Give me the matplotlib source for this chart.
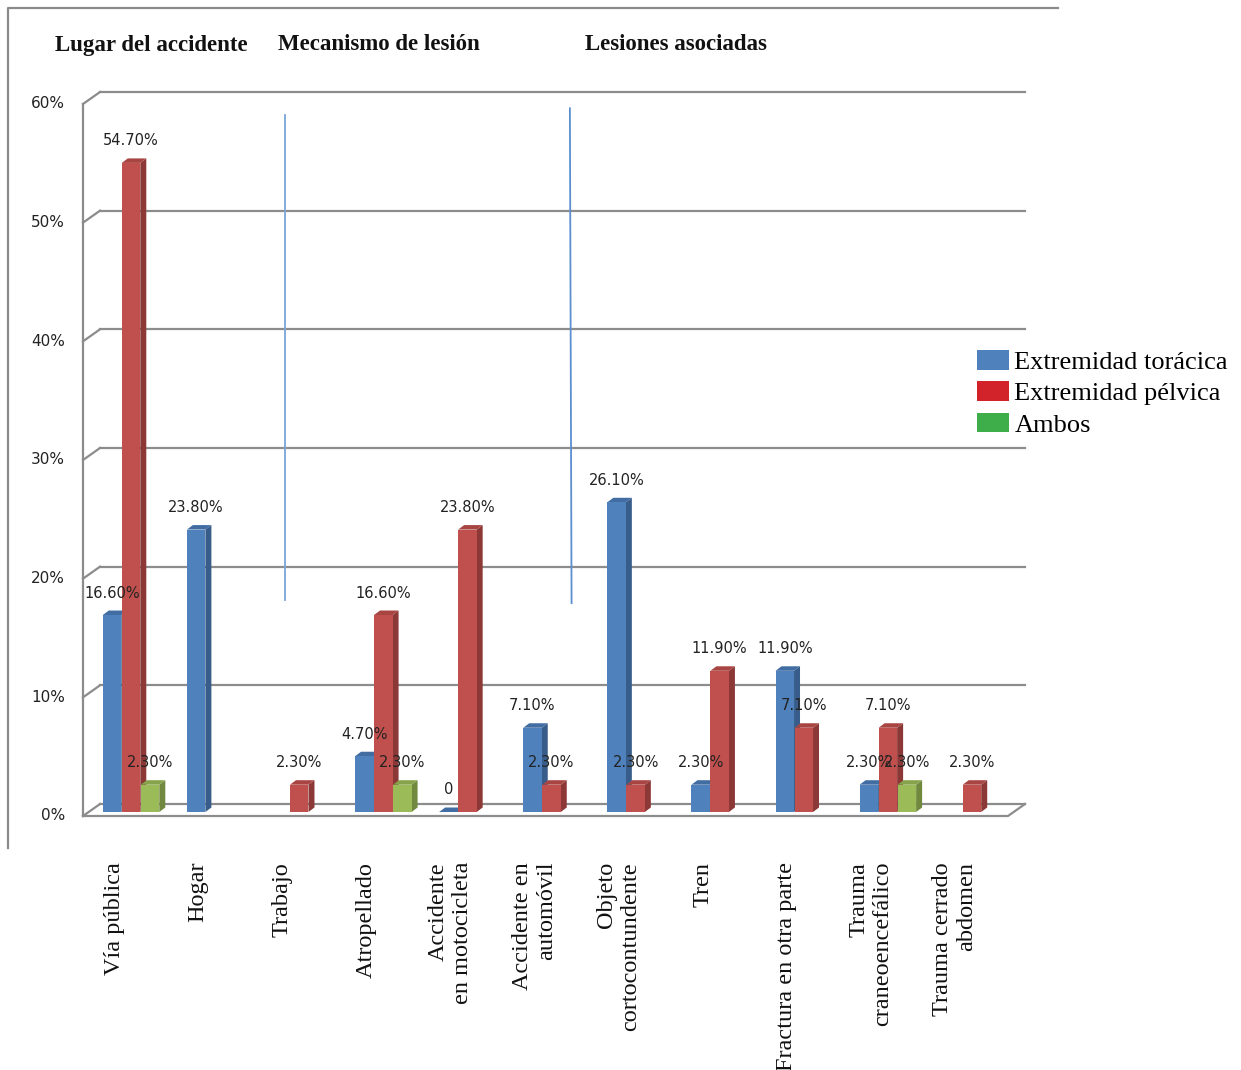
import matplotlib.pyplot as plt
from matplotlib.patches import Rectangle, Polygon, Patch
from matplotlib.lines import Line2D
from matplotlib.transforms import offset_copy

categories = ['Vía pública', 'Hogar', 'Trabajo', 'Atropellado',
              'Accidente\nen motocicleta', 'Accidente en\nautomóvil',
              'Objeto\ncortocontundente', 'Tren', 'Fractura en otra parte',
              'Trauma\ncraneoencefálico', 'Trauma cerrado\nabdomen']
toracica = [16.6, 23.8, None, 4.7, 0, 7.1, 26.1, 2.3, 11.9, 2.3, None]
pelvica = [54.7, None, 2.3, 16.6, 23.8, 2.3, 2.3, 11.9, 7.1, 7.1, 2.3]
ambos = [2.3, None, None, 2.3, None, None, None, None, None, 2.3, None]
series_names = ['Extremidad torácica', 'Extremidad pélvica', 'Ambos']
headers = ['Lugar del accidente', 'Mecanismo de lesión', 'Lesiones asociadas']
yticks = [0, 10, 20, 30, 40, 50, 60]

# front / side / top shades for each series, then the legend swatches
shades = [('#4f81bd', '#385d8a', '#416da3'),
          ('#c0504d', '#8c3836', '#a84542'),
          ('#9bbb59', '#71893f', '#86a34b')]
legend_colors = ['#4f81bd', '#d2232a', '#3dae49']

W, H = 1241, 1070
fig = plt.figure(figsize=(W / 100, H / 100), dpi=100)
ax = fig.add_axes([83 / W, (H - 812) / H, 925 / W, 712 / H])
ax.set_xlim(-0.5, 10.5)
ax.set_ylim(0, 60)
ax.axis('off')

kx = 925 / 11   # pixels per category
ky = 712 / 60   # pixels per percent

# 3d box: walls and floor
grid = dict(color='#8c8c8c', lw=1.6, clip_on=False, zorder=1)
fy = -4 / ky
bx, by = 17 / kx, 8 / ky
for v in yticks:
    ax.plot([-0.5 + bx, 10.5 + bx], [v + by, v + by], **grid)
    ax.plot([-0.5, -0.5 + bx], [v + fy, v + by], **grid)
    ax.text(-0.5 - 18 / kx, v + fy, '%d%%' % v, ha='right', va='center',
            fontsize=11, color='#222222')
ax.plot([-0.5, -0.5], [fy, 60 + fy], **grid)
ax.plot([-0.5, 10.5, 10.5 + bx], [fy, fy, by], **grid)

# hand-drawn separators between the three groups
ax.plot([1.90, 1.90], [17.9, 58.7], color='#7aa6da', lw=1.3, zorder=2)
ax.plot([5.31, 5.29], [17.6, 59.3], color='#5b8fd0', lw=1.3, zorder=2)

bw = 18.5 / kx
step = 19 / kx
ddx, ddy = 6 / kx, 4.5 / ky
shift = 6 / kx
lab_tr = offset_copy(ax.transData, fig=fig, y=22, units='dots')

for i in range(len(categories)):
    for j, vals in enumerate([toracica, pelvica, ambos]):
        v = vals[i]
        if v is None:
            continue
        front, side, top = shades[j]
        z = 3 + j * 0.1
        x0 = i + shift + (j - 1) * step - bw / 2
        ax.add_patch(Polygon([(x0 + bw, 0), (x0 + bw + ddx, ddy),
                              (x0 + bw + ddx, v + ddy), (x0 + bw, v)],
                             fc=side, ec='none', zorder=z))
        ax.add_patch(Polygon([(x0, v), (x0 + ddx, v + ddy),
                              (x0 + bw + ddx, v + ddy), (x0 + bw, v)],
                             fc=top, ec='none', zorder=z))
        ax.add_patch(Rectangle((x0, 0), bw, v, fc=front, ec='none', zorder=z))
        txt = '0' if v == 0 else '%.2f%%' % v
        ax.text(x0 + bw / 2, v, txt, transform=lab_tr, ha='center',
                va='center', fontsize=10.5, color='#222222', zorder=10)

for i, name in enumerate(categories):
    ax.text(i - 11 / kx, -50 / ky, name, rotation=90, ha='center', va='top',
            multialignment='right', fontsize=17.5, family='Liberation Serif',
            color='#111111', clip_on=False)

for name, x in zip(headers, [55, 278, 585]):
    fig.text(x / W, 1 - 45 / H, name, ha='left', va='center', fontsize=16.5,
             fontweight='bold', family='Liberation Serif', color='#111111')

# chart area border
fig.add_artist(Line2D([8 / W, 8 / W, 1058 / W], [1 - 848 / H, 1 - 8 / H, 1 - 8 / H],
                      color='#8a8a8a', lw=1.6))

handles = [Patch(fc=c, ec='none') for c in legend_colors]
fig.legend(handles, series_names, loc='upper left',
           bbox_to_anchor=(977 / W, 1 - 350 / H), frameon=False,
           prop={'family': 'Liberation Serif', 'size': 19},
           handlelength=1.22, handleheight=0.76, handletextpad=0.2,
           labelspacing=0.28, borderpad=0, borderaxespad=0)

fig.savefig('out.png', dpi=100)
